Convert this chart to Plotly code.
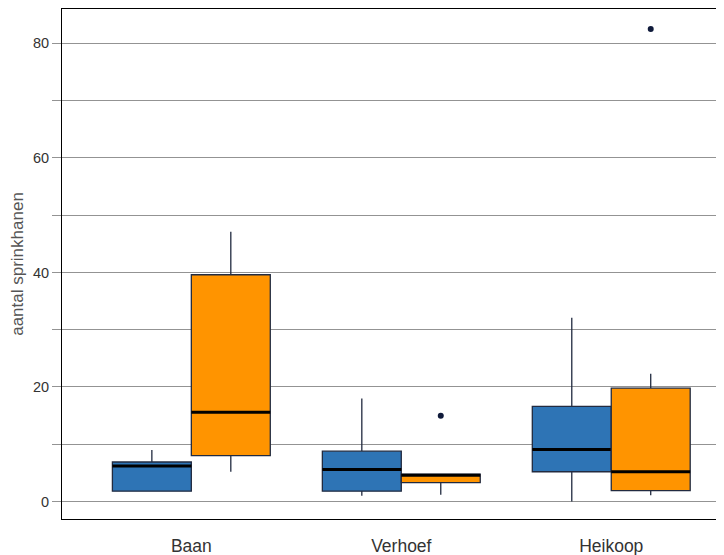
import plotly.graph_objects as go

categories = ["Baan", "Verhoef", "Heikoop"]

# series 1 (blue)
blue_q1 = [1.8, 1.8, 5.2]
blue_median = [6.2, 5.6, 9.1]
blue_q3 = [6.9, 8.8, 16.6]
blue_lower = [1.8, 1.0, 0.0]
blue_upper = [9.0, 18.0, 32.1]

# series 2 (orange)
orange_q1 = [8.0, 3.3, 1.9]
orange_median = [15.6, 4.6, 5.2]
orange_q3 = [39.6, 4.8, 19.8]
orange_lower = [5.2, 1.2, 1.1]
orange_upper = [47.1, 4.8, 22.3]

# outliers of series 2
orange_outlier_cats = ["Verhoef", "Heikoop"]
orange_outlier_vals = [15.0, 82.5]

y_tickvals = [0, 10, 20, 30, 40, 50, 60, 70, 80]
y_ticktext = ["0", "", "20", "", "40", "", "60", "", "80"]

BLUE = "#2e74b5"
ORANGE = "#ff9400"
EDGE = "#222b40"

fig = go.Figure()

def add_series(name, q1, med, q3, lo, hi, color, group):
    fig.add_trace(go.Box(
        name=name, x=categories, orientation="v",
        q1=q1, median=med, q3=q3, lowerfence=lo, upperfence=hi,
        boxpoints=False,
        fillcolor=color, line=dict(color=EDGE, width=1.3),
        whiskerwidth=0, offsetgroup=group, alignmentgroup="a",
        showlegend=False,
    ))
    # thick black median line overlay
    fig.add_trace(go.Box(
        name=name + " median", x=categories, orientation="v",
        q1=med, median=med, q3=med, lowerfence=med, upperfence=med,
        boxpoints=False,
        fillcolor="rgba(0,0,0,0)", line=dict(color="black", width=3),
        whiskerwidth=0, offsetgroup=group, alignmentgroup="a",
        showlegend=False, hoverinfo="skip",
    ))

add_series("A", blue_q1, blue_median, blue_q3, blue_lower, blue_upper, BLUE, "g1")
add_series("B", orange_q1, orange_median, orange_q3, orange_lower, orange_upper, ORANGE, "g2")

# outlier dots (invisible box, points only)
fig.add_trace(go.Box(
    name="B outliers", x=orange_outlier_cats, y=orange_outlier_vals, orientation="v",
    boxpoints="all", pointpos=0, jitter=0,
    marker=dict(color="#0f1a3a", size=6, line=dict(width=0)),
    fillcolor="rgba(0,0,0,0)", line=dict(color="rgba(0,0,0,0)", width=0),
    whiskerwidth=0, offsetgroup="g2", alignmentgroup="a",
    showlegend=False,
))

fig.update_layout(
    width=716, height=547,
    margin=dict(l=54, r=0, t=1, b=36, autoexpand=False),
    paper_bgcolor="white", plot_bgcolor="white",
    boxmode="group", boxgap=0.248, boxgroupgap=0,
    font=dict(family="Liberation Sans, Arial, sans-serif", color="#333"),
    xaxis=dict(
        range=[-0.616, 2.537], automargin=False,
        showline=True, linecolor="black", linewidth=1, mirror=True,
        showgrid=False, zeroline=False,
        ticks="outside", ticklen=11, tickcolor="rgba(0,0,0,0)",
        tickfont=dict(size=17.5, color="#333"),
    ),
    yaxis=dict(
        range=[-3.05, 86.0], automargin=False,
        tickvals=y_tickvals, ticktext=y_ticktext,
        showline=True, linecolor="black", linewidth=1,
        showgrid=True, gridcolor="#939393", gridwidth=1,
        zeroline=False,
        ticks="outside", ticklen=9, tickcolor="#939393",
        tickfont=dict(size=14.5, color="#333"),
        title=dict(text="aantal sprinkhanen", font=dict(size=17, color="#555"), standoff=15),
    ),
)

fig.write_html("out.html")
